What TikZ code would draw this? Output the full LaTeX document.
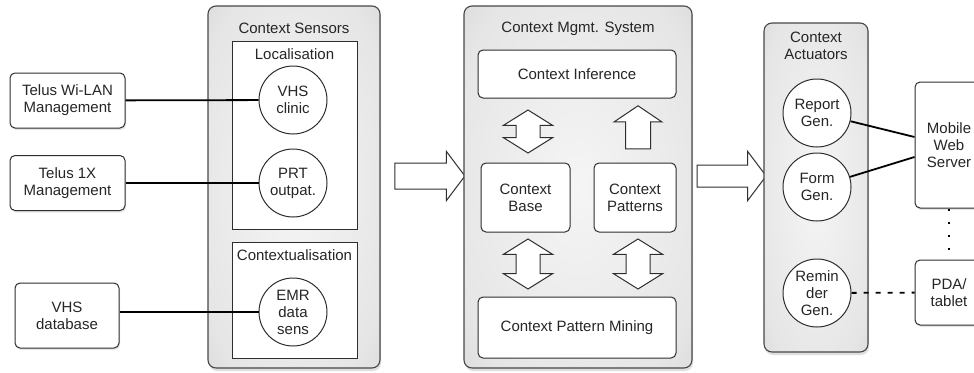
\documentclass[tikz,border=0pt]{standalone}
\usepackage{fontspec}
\setmainfont{Liberation Sans}
\usetikzlibrary{shapes.arrows,shadows}

% soft grey glow for the three big panels
\pgfdeclareradialshading{panelglow}{\pgfpoint{0bp}{0bp}}{%
  color(0bp)=(black!4); color(30bp)=(black!10); color(50bp)=(black!21); color(72bp)=(black!38)}

\begin{document}
\begin{tikzpicture}[x=1pt, y=-1pt, font=\fontsize{15}{17}\selectfont, text=black!85]
  \tikzstyle{panel} = [rectangle, draw=black!72, line width=1.1pt, rounded corners=8pt,
                       shading=panelglow, drop shadow={opacity=.25, shadow xshift=1pt, shadow yshift=-3pt}]
  \tikzstyle{group} = [rectangle, draw=black!82, line width=1pt, fill=white]
  \tikzstyle{block} = [rectangle, draw=black!82, line width=1pt, fill=white, align=center,
                       rounded corners=5pt]
  \tikzstyle{source} = [block, drop shadow={opacity=.2, shadow xshift=1pt, shadow yshift=-2pt}]
  \tikzstyle{agent} = [circle, draw=black!82, line width=1pt, fill=white, align=center,
                       minimum size=68pt, inner sep=0pt]
  \tikzstyle{flow} = [single arrow, draw=black!82, line width=1pt, fill=white, inner xsep=0pt,
                      inner ysep=12.5pt, single arrow head extend=11.5pt, single arrow tip angle=106]
  \tikzstyle{swap} = [double arrow, draw=black!82, line width=1pt, fill=white, inner xsep=0pt,
                      inner ysep=11.5pt, double arrow head extend=12.5pt, double arrow tip angle=116,
                      rotate=90]
  \tikzstyle{wire} = [line width=1.8pt]
\useasboundingbox (0,0) rectangle (974,372);
% sensors
\node[panel, minimum width=172pt, minimum height=362pt,
      label={[anchor=center, yshift=-23pt]north:Context Sensors}] (sens) at (294,187) {};
\node[group, minimum width=125pt, minimum height=188pt,
      label={[anchor=center, yshift=-14pt]north:Localisation}] (loc) at (294.5,135) {};
\node[group, minimum width=125pt, minimum height=116pt,
      label={[anchor=center, yshift=-14pt]north:Contextualisation}] (ctxt) at (294.5,300) {};
\node[agent] (vhs) at (293,100) {VHS\\clinic};
\node[agent, below of=vhs, node distance=83pt] (prt) {PRT\\outpat.};
\node[agent] (emr) at (293,312) {EMR\\data\\sens};
\node[source, minimum width=115pt, minimum height=55pt] (wlan) at (67.5,100.5) {Telus Wi-LAN\\Management};
\node[source, minimum width=115pt, minimum height=55pt] (onex) at (67.5,183) {Telus 1X\\Management};
\node[source, minimum width=104pt, minimum height=65pt] (vhsdb) at (67,315.5) {VHS\\database};
% management system
\node[flow, minimum height=70pt] (in) at (425,176) {};
\node[panel, minimum width=228pt, minimum height=362pt,
      label={[anchor=center, yshift=-23pt]north:Context Mgmt. System}] (cms) at (578,187) {};
\node[block, minimum width=198pt, minimum height=48pt] (inf) at (577,74) {Context Inference};
\node[block, minimum width=89pt, minimum height=69pt] (base) at (525.5,197.5) {Context\\Base};
\node[block, minimum width=82pt, minimum height=69pt] (pat) at (635,197.5) {Context\\Patterns};
\node[block, minimum width=198pt, minimum height=61pt] (mine) at (577,327.5) {Context Pattern Mining};
\node[swap, minimum height=43pt] (infbase) at (528,131.5) {};
\node[flow, minimum height=43pt, inner ysep=12pt, single arrow head extend=11.5pt,
      single arrow tip angle=112, rotate=90] (infpat) at (638,131.5) {};
\node[swap, minimum height=50pt] (minebase) at (528,264) {};
\node[swap, minimum height=50pt] (minepat) at (638,264) {};
% actuators
\node[flow, minimum height=69pt, inner ysep=10.5pt, single arrow head extend=13.5pt] (out) at (727.5,176) {};
\node[panel, minimum width=104pt, minimum height=329pt,
      label={[anchor=center, align=center, yshift=-23.5pt]north:Context\\Actuators}] (act) at (816,187.5) {};
\node[agent] (rep) at (817,113) {Report\\Gen.};
\node[agent] (form) at (817,187) {Form\\Gen.};
\node[agent] (remi) at (817,293) {Remin\\der\\Gen.};
\node[source, minimum width=68pt, minimum height=126pt] (mws) at (949,145) {Mobile\\Web\\Server};
\node[source, minimum width=68pt, minimum height=65pt] (pda) at (949,292.5) {PDA/\\tablet};
% links
\draw[wire] (wlan) -- (vhs);
\draw[wire] (onex) -- (prt);
\draw[wire] (vhsdb.east |- emr) -- (emr);
\draw[wire] (rep) -- ([yshift=8pt]mws.west);
\draw[wire] (form) -- ([yshift=-12pt]mws.west);
\draw[wire, line width=2.2pt, dash pattern=on 2.5pt off 10.5pt] (mws) -- (pda);
\draw[wire, dash pattern=on 5pt off 7pt] (remi) -- (pda);
\end{tikzpicture}
\end{document}
